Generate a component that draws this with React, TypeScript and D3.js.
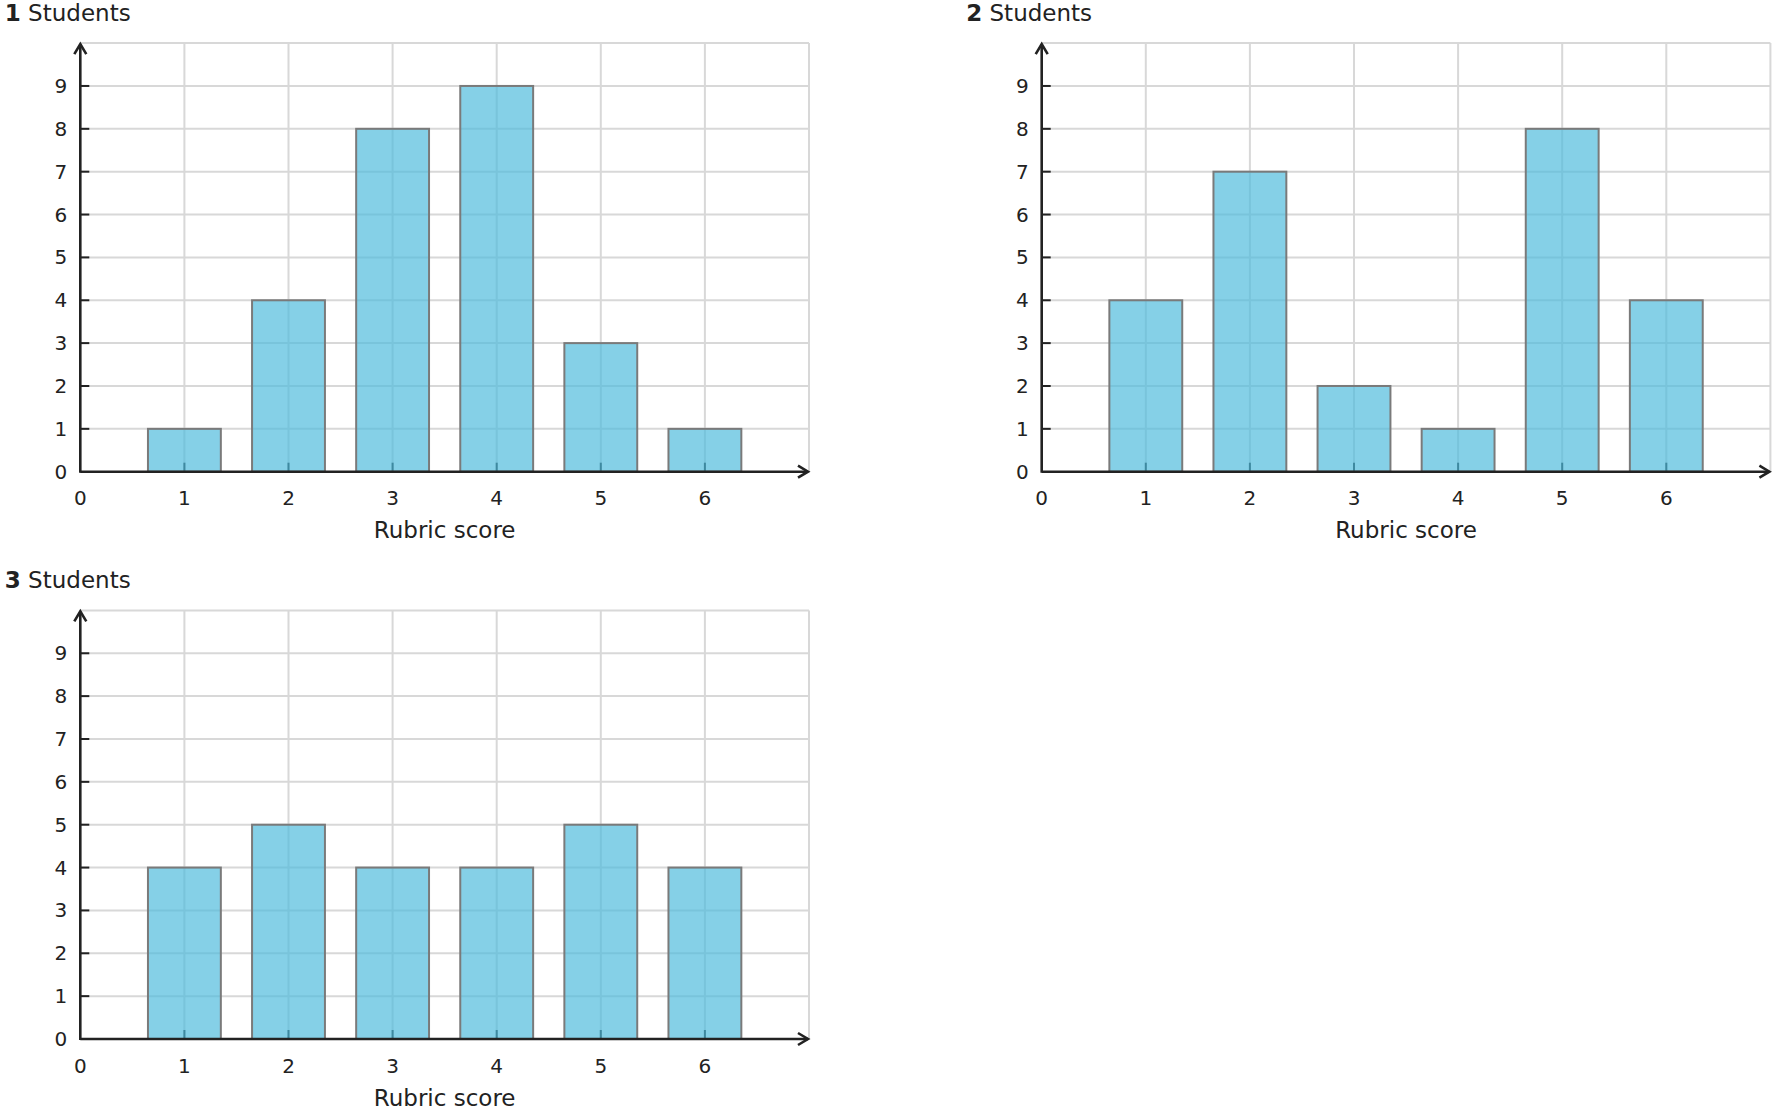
import React from "react";
import * as d3 from "d3";

// rubric scores on the x axis
const scores = [1, 2, 3, 4, 5, 6];
const xTicks = [0, 1, 2, 3, 4, 5, 6];
const yTicks = [0, 1, 2, 3, 4, 5, 6, 7, 8, 9];

// number of students per score, one list per panel
const panel1 = [1, 4, 8, 9, 3, 1];
const panel2 = [4, 7, 2, 1, 8, 4];
const panel3 = [4, 5, 4, 4, 5, 4];

const panels = [
    { id: "1", values: panel1, left: 80.3, base: 471.7 },
    { id: "2", values: panel2, left: 1041.7, base: 471.7 },
    { id: "3", values: panel3, left: 80.3, base: 1039 },
];

const plotW = 728.7;
const plotH = 428.6;
const font = "DejaVu Sans, sans-serif";
const ink = "#222";
const gridColor = "#d8d8d8";

const Panel = (props: { id: string; values: number[]; left: number; base: number }): JSX.Element => {
    const { id, values, left, base } = props;
    const x = d3.scaleLinear().domain([0, 7]).range([left, left + plotW]);
    const y = d3.scaleLinear().domain([0, 10]).range([base, base - plotH]);
    const barW = x(0.7) - x(0);

    return (
        <g>
            {/* title */}
            <text x={left - 75.5} y={y(10) - 22.5} fontFamily={font} fontSize={23} fill={ink}>
                <tspan fontWeight="bold">{id}</tspan>
                <tspan> Students</tspan>
            </text>

            {/* grid */}
            {d3.range(1, 11).map((v) => (
                <line key={"h" + v} x1={x(0)} x2={x(7)} y1={y(v)} y2={y(v)} stroke={gridColor} strokeWidth={2} />
            ))}
            {d3.range(1, 8).map((v) => (
                <line key={"v" + v} x1={x(v)} x2={x(v)} y1={y(0)} y2={y(10)} stroke={gridColor} strokeWidth={2} />
            ))}

            {/* x ticks (under bars) */}
            {scores.map((s) => (
                <line key={"xt" + s} x1={x(s)} x2={x(s)} y1={y(0)} y2={y(0) - 9} stroke={ink} strokeWidth={2} />
            ))}
            {/* y ticks */}
            {yTicks.slice(1).map((v) => (
                <line key={"yt" + v} x1={x(0)} x2={x(0) + 9} y1={y(v)} y2={y(v)} stroke={ink} strokeWidth={2} />
            ))}

            {/* bars */}
            {values.map((v, i) => (
                <rect
                    key={"b" + i}
                    x={x(scores[i]) - barW / 2}
                    y={y(v)}
                    width={barW}
                    height={y(0) - y(v)}
                    fill="rgb(75,185,220)"
                    fillOpacity={0.68}
                    stroke="#7a7a7a"
                    strokeWidth={2}
                />
            ))}

            {/* axes with arrows */}
            <line x1={x(0)} x2={x(7) - 1} y1={y(0)} y2={y(0)} stroke={ink} strokeWidth={2.6} />
            <line x1={x(0)} x2={x(0)} y1={y(0) + 1} y2={y(10) + 1} stroke={ink} strokeWidth={2.6} />
            <polyline
                points={`${x(7) - 11},${y(0) - 6} ${x(7) - 1},${y(0)} ${x(7) - 11},${y(0) + 6}`}
                fill="none"
                stroke={ink}
                strokeWidth={2.6}
            />
            <polyline
                points={`${x(0) - 6},${y(10) + 11} ${x(0)},${y(10) + 1} ${x(0) + 6},${y(10) + 11}`}
                fill="none"
                stroke={ink}
                strokeWidth={2.6}
            />

            {/* tick labels */}
            {yTicks.map((v) => (
                <text
                    key={"yl" + v}
                    x={x(0) - 13}
                    y={y(v) + 7}
                    textAnchor="end"
                    fontFamily={font}
                    fontSize={20}
                    fill={ink}
                >
                    {v}
                </text>
            ))}
            {xTicks.map((v) => (
                <text
                    key={"xl" + v}
                    x={x(v)}
                    y={y(0) + 33.5}
                    textAnchor="middle"
                    fontFamily={font}
                    fontSize={20}
                    fill={ink}
                >
                    {v}
                </text>
            ))}
            <text
                x={(x(0) + x(7)) / 2}
                y={y(0) + 66.5}
                textAnchor="middle"
                fontFamily={font}
                fontSize={23}
                fill={ink}
            >
                Rubric score
            </text>
        </g>
    );
};

const App = (): JSX.Element => {
    return (
        <svg
            width={1774}
            height={1115}
            viewBox="0 0 1774 1115"
            style={{ position: "absolute", left: 0, top: 0, background: "#fff" }}
        >
            {panels.map((p) => (
                <Panel key={p.id} {...p} />
            ))}
        </svg>
    );
};

export default App;
